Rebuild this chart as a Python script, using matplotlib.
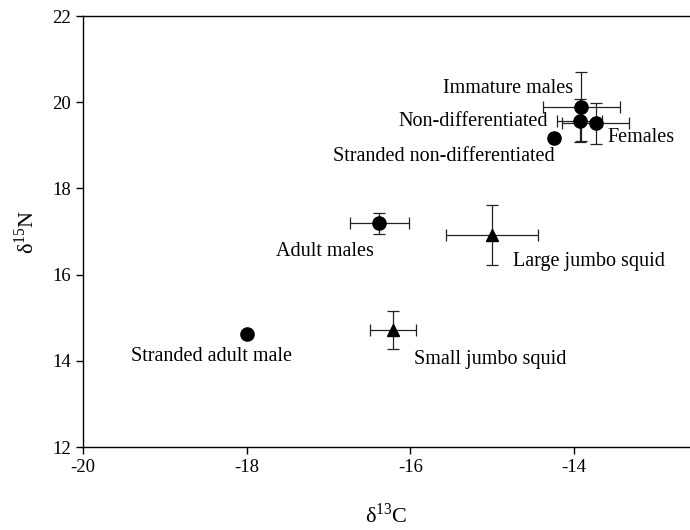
import numpy as np
import matplotlib
matplotlib.use("Agg")
import matplotlib.pyplot as plt

plt.rcParams['font.family'] = ['Liberation Serif', 'DejaVu Serif']
plt.rcParams['mathtext.fontset'] = 'custom'
plt.rcParams['mathtext.rm'] = 'Liberation Serif'
plt.rcParams['axes.unicode_minus'] = False

# groups (circles = sperm whales, triangles = jumbo squid)
names = ['Immature males', 'Non-differentiated', 'Females', 'Stranded non-differentiated',
         'Adult males', 'Large jumbo squid', 'Stranded adult male', 'Small jumbo squid']
d13c = [-13.91, -13.93, -13.73, -14.24, -16.38, -15.00, -18.00, -16.21]
d15n = [19.90, 19.57, 19.51, 19.18, 17.19, 16.92, 14.62, 14.72]
d13c_err = [0.47, 0.27, 0.41, 0.0, 0.36, 0.56, 0.0, 0.28]
d15n_err = [0.80, 0.50, 0.48, 0.0, 0.25, 0.69, 0.0, 0.44]
markers = ['o', 'o', 'o', 'o', 'o', '^', 'o', '^']

# where each label sits and how it is anchored
label_xy = [(-14.01, 20.31), (-14.32, 19.55), (-13.59, 19.17), (-14.23, 18.75),
            (-16.45, 16.53), (-14.74, 16.30), (-19.41, 14.09), (-15.95, 14.04)]
label_ha = ['right', 'right', 'left', 'right', 'right', 'left', 'left', 'left']

fig = plt.figure(figsize=(6.9, 5.3), dpi=100)
ax = fig.add_axes([0.1203, 0.1566, 0.8797, 0.8132])

for i in range(len(names)):
    if d13c_err[i] > 0:
        ax.errorbar(d13c[i], d15n[i], xerr=d13c_err[i], yerr=d15n_err[i], fmt='none',
                    ecolor='#222222', elinewidth=0.9, capsize=4, capthick=0.9)
    ms = 9.5 if markers[i] == 'o' else 8.5
    ax.plot(d13c[i], d15n[i], marker=markers[i], color='black', ms=ms, ls='none', zorder=3)
    ax.text(label_xy[i][0], label_xy[i][1], names[i], ha=label_ha[i], va='center', fontsize=14.5)

ax.set_xlim(-20, -12.58)
ax.set_ylim(12, 22)
ax.set_xticks([-20, -18, -16, -14])
ax.set_yticks([12, 14, 16, 18, 20, 22])
ax.spines['right'].set_visible(False)
for s in ['left', 'bottom', 'top']:
    ax.spines[s].set_linewidth(1.0)
ax.tick_params(direction='out', length=5, width=1, labelsize=13.5, top=False, right=False)

ax.set_xlabel(r'δ$^{13}$C', fontsize=16, labelpad=20)
ax.set_ylabel(r'δ$^{15}$N', fontsize=16, labelpad=10)

fig.savefig('out.png', dpi=100)
